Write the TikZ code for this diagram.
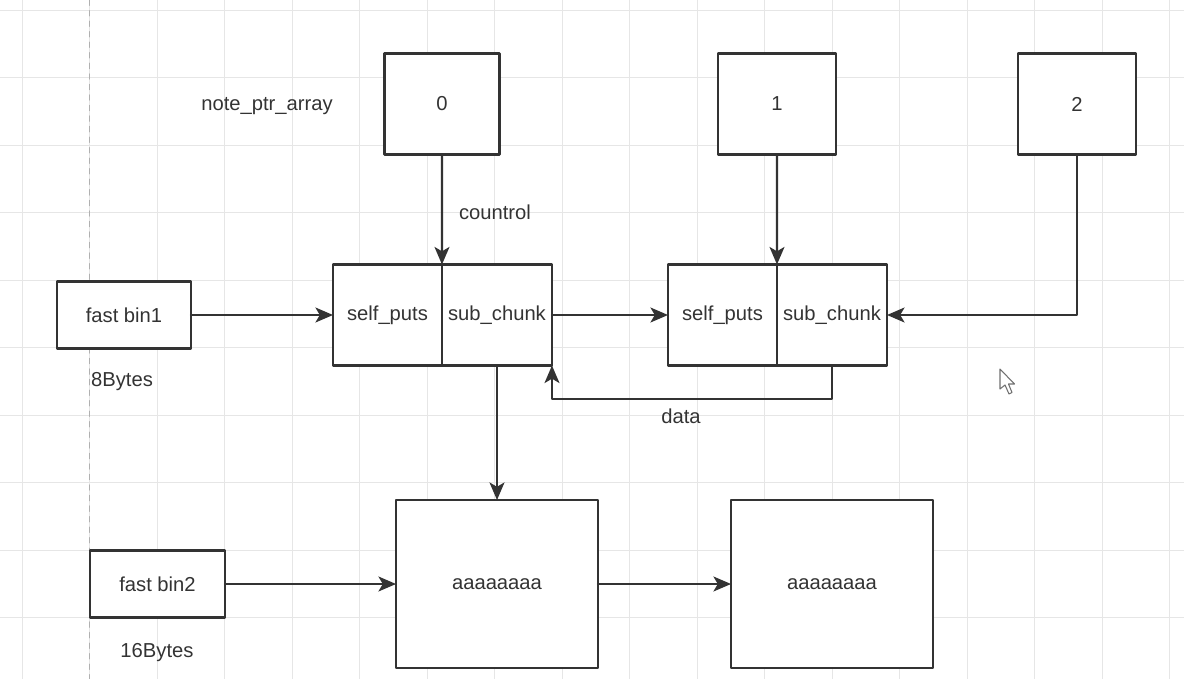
\documentclass[tikz,border=0pt]{standalone}
\usepackage{fontspec}
\setmainfont{Liberation Sans}
\usepackage{xcolor}
\usepackage{tikz}
\usetikzlibrary{arrows.meta,positioning}
\definecolor{binink}{HTML}{333333}
\definecolor{bingrid}{HTML}{E6E6E6}
\definecolor{binpage}{HTML}{B0B0B0}

\tikzset{
  cell/.style={draw=binink, line width=1.2pt, fill=white, inner sep=0pt, outer sep=0pt,
    text=binink, font=\fontsize{11.5}{13}\selectfont},
  link/.style={draw=binink, line width=1.2pt, -{Stealth[length=10pt, width=8.5pt, inset=2.5pt]}},
  tag/.style={text=binink, inner sep=1pt, font=\fontsize{11.5}{13}\selectfont}
}

\begin{document}
\begin{tikzpicture}[x=0.02cm, y=-0.02cm, line cap=round, line join=round]
  \useasboundingbox (0,0) rectangle (1184,679);
  % grid
  \foreach \gx in {22,89.5,157,224.5,292,359.5,427,494.5,562,629.5,697,764.5,832,899.5,967,1034.5,1102,1169.5}
    \draw[bingrid, line width=0.5pt] (\gx,0) -- (\gx,679);
  \foreach \gy in {10,77.5,145,212.5,280,347.5,415,482.5,550,617.5}
    \draw[bingrid, line width=0.5pt] (0,\gy) -- (1184,\gy);
  \draw[binpage, line width=0.6pt, dashed] (89.5,0) -- (89.5,679);
  % pointer array
  \node[tag] (arrlbl) at (267,106) {note\_ptr\_array};
  \node[cell, minimum width=2.3cm, minimum height=2.02cm] (n0) at (442,104) {0};
  \node[cell, minimum width=2.36cm, minimum height=2.02cm] (n1) at (777,104) {1};
  \node[cell, minimum width=2.36cm, minimum height=2.02cm] (n2) at (1077,104) {2};
  % chunks
  \node[cell, minimum width=2.18cm, minimum height=2.02cm] (ca1) at (387.5,315) {self\_puts};
  \node[cell, minimum width=2.2cm, minimum height=2.02cm] (ca2) at (497,315) {sub\_chunk};
  \node[cell, minimum width=2.18cm, minimum height=2.02cm] (cb1) at (722.5,315) {self\_puts};
  \node[cell, minimum width=2.2cm, minimum height=2.02cm] (cb2) at (832,315) {sub\_chunk};
  % bins
  \node[cell, minimum width=2.68cm, minimum height=1.34cm] (fb1) at (124,315) {fast bin1};
  \node[tag] (sz1) at (122,382) {8Bytes};
  \node[cell, minimum width=2.7cm, minimum height=1.34cm] (fb2) at (157.5,584) {fast bin2};
  \node[tag] (sz2) at (157,653) {16Bytes};
  % data blocks
  \node[cell, minimum width=4.04cm, minimum height=3.36cm] (big1) at (497,584) {aaaaaaaa};
  \node[cell, minimum width=4.04cm, minimum height=3.36cm] (big2) at (832,584) {aaaaaaaa};
  % links
  \draw[link] (n0.south) -- (ca1.north east);
  \node[tag] (ctl) at (495,212) {countrol};
  \draw[link] (n1.south) -- (cb1.north east);
  \draw[link] (n2.south) |- (cb2.east);
  \draw[link] (fb1.east) -- (ca1.west);
  \draw[link] (ca2.east) -- (cb1.west);
  \coordinate (dturn) at (832,399);
  \draw[link] (cb2.south) -- (dturn) -| (ca2.south east);
  \node[tag] (datalbl) at (681,416) {data};
  \draw[link] (ca2.south) -- (big1.north);
  \draw[link] (fb2.east) -- (big1.west);
  \draw[link] (big1.east) -- (big2.west);
  % mouse pointer
  \filldraw[fill=white, draw=binink!70, line width=0.6pt]
    (1000,369) -- (1000,389) -- (1005,385) -- (1009,394) -- (1012,392.5) -- (1008.5,384) -- (1014.5,384) -- cycle;
\end{tikzpicture}
\end{document}
